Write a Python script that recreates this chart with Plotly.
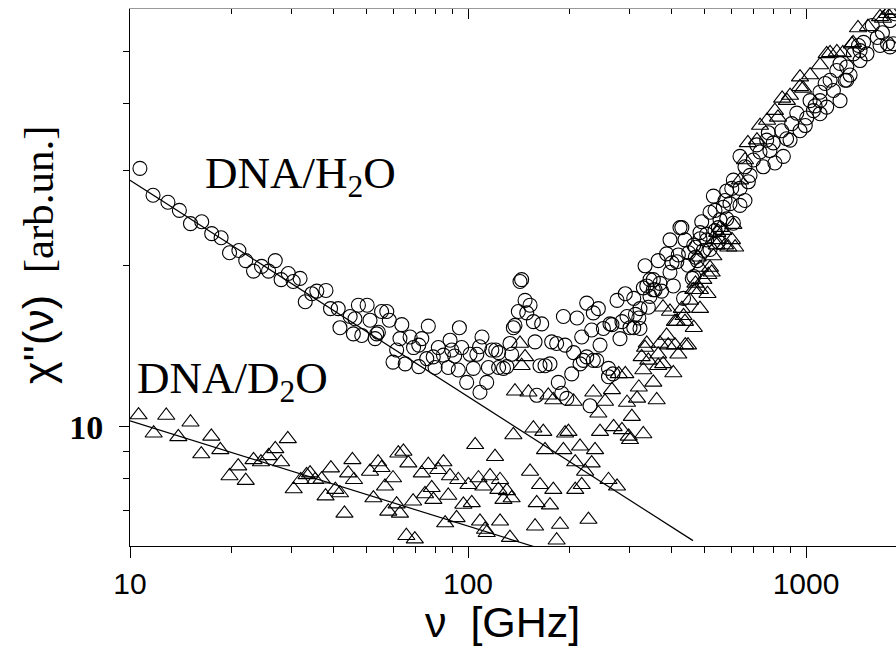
import math
import plotly.graph_objects as go

# DNA/H2O: imaginary susceptibility vs frequency (open circles)
h2o_freq = [
    10.7, 11.7, 12.95, 14.0, 15.1, 16.3, 17.45, 18.6, 19.7, 21.0, 22.0, 23.2, 24.5, 25.7,
    26.9, 28.0, 29.4, 30.4, 31.85, 33.0, 34.5, 35.7, 38.0, 39.2, 41.3, 41.8, 44.8, 45.8,
    46.3, 47.4, 48.5, 50.3, 51.3, 53.1, 53.7, 54.3, 55.5, 57.5, 58.5, 60.0, 61.5, 62.9,
    63.7, 65.2, 67.4, 69.0, 71.5, 71.5, 73.0, 75.5, 76.3, 78.9, 79.9, 81.7, 84.6, 87.4,
    88.5, 89.5, 91.3, 93.6, 94.3, 95.8, 99.1, 101.4, 103.7, 106.2, 108.2, 108.5, 110.0,
    113.6, 114.9, 117.6, 120.8, 123.2, 123.2, 127.3, 130.3, 133.1, 134.6, 136.2, 137.7,
    140.9, 142.5, 144.1, 147.5, 149.2, 152.6, 156.1, 157.9, 159.7, 163.3, 165.2, 169.0,
    174.8, 176.8, 182.9, 185.0, 189.4, 191.5, 193.7, 196.0, 202.7, 205.3, 210.1, 214.5,
    217.0, 219.4, 224.5, 224.5, 229.6, 232.2, 234.8, 234.8, 240.4, 243.0, 245.8, 251.5,
    260.4, 260.4, 263.1, 266.6, 268.5, 276.0, 281.6, 285.4, 292.0, 295.4, 301.5, 309.3,
    309.3, 312.8, 320.2, 322.7, 322.7, 330.1, 334.0, 338.0, 341.6, 345.5, 345.5, 353.4,
    353.4, 357.7, 365.3, 369.8, 373.9, 386.9, 395.9, 395.9, 401.3, 405.0, 414.7, 419.0,
    423.8, 429.2, 434.2, 438.4, 447.6, 449.6, 460.7, 465.6, 465.6, 470.9, 470.9, 476.7,
    485.7, 485.7, 491.4, 496.8, 508.3, 508.3, 520.0, 520.0, 532.0, 538.0, 538.0, 550.5,
    550.5, 556.6, 569.4, 576.0, 582.7, 582.7, 595.8, 603.0, 609.6, 609.6, 637.8, 637.8,
    637.8, 659.8, 659.8, 675.0, 683.0, 698.6, 715.0, 730.9, 747.5, 765.0, 773.6, 782.0,
    800.0, 809.0, 847.0, 857.0, 876.0, 897.0, 907.0, 939.0, 960.0, 995.0, 1005.0, 1028.0,
    1052.0, 1064.0, 1100.0, 1100.0, 1100.0, 1139.0, 1151.0, 1178.0, 1205.0, 1233.0,
    1261.0, 1261.0, 1305.0, 1320.0, 1320.0, 1350.0, 1381.0, 1430.0, 1445.0, 1445.0,
    1480.0, 1515.0, 1570.0, 1625.0, 1656.0, 1683.0, 1742.0, 1772.0, 1772.0, 1813.0, 1832.0,
]
h2o_chi = [
    30.3, 27.0, 26.2, 25.3, 23.9, 24.1, 22.9, 22.5, 21.1, 21.3, 20.4, 19.5, 19.9, 19.5,
    20.4, 18.8, 19.3, 18.65, 18.9, 17.1, 17.7, 17.9, 17.95, 16.6, 16.6, 15.3, 16.05, 14.9,
    15.9, 16.85, 14.8, 16.85, 15.8, 14.6, 14.9, 15.0, 16.4, 16.4, 15.8, 13.2, 13.9, 14.6,
    15.5, 13.1, 14.7, 14.05, 12.95, 14.2, 14.6, 13.4, 15.4, 13.5, 12.9, 14.05, 13.6, 12.9,
    14.5, 13.9, 13.55, 12.76, 15.3, 14.05, 12.1, 13.65, 12.85, 13.65, 14.1, 11.6, 14.7,
    12.1, 12.9, 13.9, 13.9, 13.75, 12.9, 12.85, 12.95, 14.3, 13.65, 15.3, 15.45,
    16.4, 18.65, 18.8, 17.2, 16.3, 16.85, 15.7, 14.4, 11.45, 13.0, 15.55, 13.0,
    13.1, 14.4, 14.3, 12.1, 11.55, 16.05, 14.2, 11.3, 12.55, 13.75, 15.95, 13.1,
    14.7, 13.3, 17.0, 13.5, 10.95, 15.15, 16.3, 13.3, 13.3, 16.6, 14.2, 15.25,
    12.85, 12.4, 15.55, 15.5, 12.55, 17.2, 14.6, 15.7, 17.7, 16.05, 15.3, 17.35,
    15.3, 16.2, 15.95, 16.6, 15.25, 18.15, 19.95, 18.3, 16.7, 17.5, 18.8, 18.8,
    18.0, 18.0, 20.4, 18.5, 17.9, 21.0, 19.4, 22.3, 20.2, 18.3, 20.3, 20.9,
    23.5, 23.5, 17.35, 22.3, 20.0, 21.1, 18.9, 19.05, 21.8, 20.7, 21.6, 20.4,
    22.4, 23.0, 24.1, 21.3, 22.85, 22.3, 21.4, 25.1, 26.9, 23.2, 25.3, 22.1,
    23.5, 24.3, 25.65, 26.4, 24.4, 27.5, 26.05, 27.8, 23.95, 28.8, 25.85, 27.8,
    31.9, 26.4, 30.5, 28.6, 29.4, 31.4, 33.5, 32.5, 30.5, 34.2, 35.3, 32.7,
    33.8, 31.0, 35.6, 31.9, 34.4, 34.2, 36.7, 38.4, 35.6, 36.4, 37.6, 40.5,
    38.8, 39.6, 42.0, 40.5, 38.3, 43.6, 39.4, 44.2, 42.3, 46.1,
    47.5, 40.5, 44.2, 46.8, 44.2, 45.2, 49.5, 51.3, 48.1, 50.2,
    52.0, 49.5, 55.9, 53.1, 51.3, 54.2, 51.7, 57.1, 51.0, 51.7, 58.8,
]

# DNA/D2O: imaginary susceptibility vs frequency (open triangles)
d2o_freq = [
    10.6, 11.75, 12.8, 13.9, 15.1, 16.25, 17.4, 18.5, 19.7, 20.9, 22.0, 23.2, 24.4, 25.7,
    26.9, 28.0, 29.3, 30.5, 32.0, 33.3, 34.1, 35.3, 36.9, 37.9, 39.3, 40.5, 41.8, 43.1,
    44.2, 45.5, 46.0, 51.3, 52.5, 54.2, 55.5, 56.8, 58.1, 60.0, 61.5, 62.2, 62.9, 64.4,
    65.7, 66.6, 68.8, 69.6, 73.0, 74.6, 76.3, 78.1, 79.0, 81.7, 84.6, 85.6, 87.4, 88.45,
    92.5, 93.6, 96.9, 100.3, 102.6, 105.0, 107.4, 108.5, 111.0, 112.3, 113.6, 116.2,
    120.2, 123.0, 124.4, 124.4, 127.3, 130.3, 133.1, 134.6, 136.2, 137.7, 142.5, 144.1,
    147.5, 150.9, 152.6, 156.1, 157.9, 159.7, 163.3, 167.0, 169.0, 172.8, 174.8, 178.8,
    178.8, 182.9, 187.2, 191.5, 193.7, 198.2, 205.3, 207.6, 207.6, 214.5, 217.0, 222.1,
    227.2, 232.2, 234.8, 237.6, 243.0, 245.8, 254.3, 260.4, 266.6, 269.6, 276.0, 279.2,
    285.4, 292.0, 295.4, 298.8, 301.5, 305.3, 316.3, 320.2, 326.4, 330.1, 330.1, 334.0,
    338.0, 341.6, 353.4, 361.6, 365.3, 365.3, 369.8, 377.5, 377.9, 386.9, 391.2, 395.9,
    405.0, 409.5, 409.5, 414.7, 419.0, 429.2, 434.2, 438.4, 439.4, 447.6, 453.7, 464.0,
    465.6, 470.9, 470.9, 478.0, 485.7, 485.7, 485.7, 496.8, 511.0, 514.1, 520.0, 526.0,
    532.0, 538.0, 544.2, 546.0, 557.0, 569.4, 576.0, 588.9, 604.0, 609.6, 617.0, 638.0,
    660.0, 673.0, 716.0, 731.0, 767.0, 809.0, 826.0, 850.0, 878.0, 897.0, 960.0, 960.0,
    980.0, 1028.0, 1100.0, 1151.0, 1178.0, 1234.0, 1285.0, 1367.0, 1378.0, 1425.0,
    1525.0, 1656.0, 1690.0, 1738.0, 1772.0, 1813.0,
]
d2o_chi = [
    10.52, 9.73, 10.5, 9.58, 10.2, 8.9, 9.6, 9.06, 8.1, 8.45, 7.94, 8.68, 8.6, 8.83,
    9.1, 8.6, 9.5, 7.66, 7.97, 8.14, 8.2, 7.97, 7.99, 7.43, 8.38, 7.64, 7.53, 6.9,
    8.2, 8.68, 7.97, 8.26, 7.37, 8.6, 8.39, 7.75, 6.96, 8.03, 7.18, 8.93, 6.9, 9.0,
    6.27, 8.56, 7.27, 6.18, 8.2, 7.5, 8.5, 7.7, 7.32, 8.32, 8.6, 6.62, 7.45, 8.1,
    6.77, 7.97, 7.17, 7.8, 7.22, 9.26, 8.03, 6.67, 7.75, 6.44, 6.35, 8.1,
    8.8, 7.64, 7.97, 6.67, 7.32, 7.6, 6.22, 7.37, 9.66, 11.65, 14.3, 13.0,
    13.5, 11.6, 8.26, 9.94, 6.53, 7.22, 7.8, 9.8, 9.06, 11.45, 7.15, 7.64,
    11.22, 6.15, 6.58, 9.06, 9.73, 9.8, 11.15, 8.6, 7.64, 9.2, 7.8, 8.26,
    6.72, 8.56, 11.6, 9.06, 10.6, 9.8, 11.15, 7.97, 11.72, 10.0, 7.75, 12.55,
    9.87, 12.55, 11.1, 9.6, 9.46, 10.45, 11.3, 11.85, 13.5, 9.7, 12.76, 14.05,
    14.3, 13.3, 12.1, 11.22, 13.65, 13.0, 14.3, 16.7, 13.1, 14.8, 14.2, 16.4,
    12.6, 15.7, 14.2, 15.7, 13.65, 16.6, 16.1, 15.7, 14.2, 14.2, 17.2, 18.0,
    15.3, 18.0, 18.5, 20.7, 16.6, 18.0, 19.8, 18.8, 17.7, 19.2, 19.8, 19.4,
    20.8, 22.3, 21.8, 23.0, 23.5, 23.2, 21.8, 21.6, 22.3, 23.8, 21.6, 28.8,
    31.4, 33.8, 34.2, 36.4, 37.2, 38.8, 37.7, 40.9, 40.5, 41.4, 44.8, 43.0,
    42.7, 45.2, 47.2, 49.5, 49.7, 49.9, 49.7, 51.6, 51.9, 55.3,
    55.6, 58.0, 57.6, 58.8, 59.6, 59.6,
]

# Power-law fits (straight lines on log-log axes), given by their end points
h2o_fit_freq = [10.0, 463.0]
h2o_fit_chi = [28.8, 6.14]
d2o_fit_freq = [10.0, 160.0]
d2o_fit_chi = [10.26, 5.96]

x_major = [10, 100, 1000]
x_minor = [20, 30, 40, 50, 60, 70, 80, 90, 200, 300, 400, 500, 600, 700, 800, 900]
y_major = [10]
y_minor = [7, 8, 9, 20, 30, 40, 50]

SANS = "Liberation Sans, Arial, sans-serif"
SERIF = "Liberation Serif, Times New Roman, serif"

W, H = 896, 649
ML, MR, MT, MB = 130, 0, 9, 103
PW, PH = W - ML - MR, H - MT - MB


def px_to_paper(px, py):
    return (px - ML) / PW, (H - MB - py) / PH


fig = go.Figure()

fig.add_trace(go.Scatter(
    x=h2o_freq, y=h2o_chi, mode="markers",
    marker=dict(symbol="circle-open", size=14, color="black",
                line=dict(width=1.1, color="black")),
))
fig.add_trace(go.Scatter(
    x=d2o_freq, y=d2o_chi, mode="markers",
    marker=dict(symbol="triangle-up-open", size=15, color="black",
                line=dict(width=1.1, color="black")),
))
fig.add_trace(go.Scatter(x=h2o_fit_freq, y=h2o_fit_chi, mode="lines",
                         line=dict(color="black", width=1.2)))
fig.add_trace(go.Scatter(x=d2o_fit_freq, y=d2o_fit_chi, mode="lines",
                         line=dict(color="black", width=1.2)))
# empty trace that attaches the top (mirror) frequency axis
fig.add_trace(go.Scatter(x=[], y=[], xaxis="x2", yaxis="y", mode="markers",
                         hoverinfo="skip"))

x_range = [1.0, math.log10(1846)]
y_range = [math.log10(6), math.log10(60)]

common_x = dict(
    type="log", range=x_range, showgrid=False, zeroline=False,
    tickvals=x_major, tickwidth=1, tickcolor="black",
)

fig.update_layout(
    width=W, height=H,
    margin=dict(l=ML, r=MR, t=MT, b=MB),
    paper_bgcolor="white", plot_bgcolor="white",
    showlegend=False,
    xaxis=dict(
        **common_x,
        ticktext=["10", "100", "1000"],
        ticks="outside", ticklen=11,
        showline=True, linecolor="black", linewidth=1,
        tickfont=dict(family=SANS, size=30, color="black"),
        minor=dict(tickvals=x_minor, ticks="outside", ticklen=6, tickwidth=1,
                   tickcolor="black", showgrid=False),
    ),
    xaxis2=dict(
        **common_x,
        overlaying="x", side="top", anchor="y",
        ticks="inside", ticklen=10, showticklabels=False,
        showline=True, linecolor="#999999", linewidth=1,
        minor=dict(tickvals=x_minor, ticks="inside", ticklen=5, tickwidth=1,
                   tickcolor="black", showgrid=False),
    ),
    yaxis=dict(
        type="log", range=y_range, showgrid=False, zeroline=False,
        showline=True, linecolor="black", linewidth=1,
        tickvals=y_major, ticktext=["<b>10</b>"],
        ticks="outside", ticklen=10, tickwidth=1, tickcolor="black",
        tickfont=dict(family=SERIF, size=34, color="black"),
        ticklabelstandoff=9,
        minor=dict(tickvals=y_minor, ticks="outside", ticklen=6, tickwidth=1,
                   tickcolor="black", showgrid=False),
    ),
)

ann = []
ax, ay = px_to_paper(502, 622)
ann.append(dict(text="\u03bd\u00a0\u00a0[GHz]", x=ax, y=ay, xref="paper", yref="paper",
                xanchor="center", yanchor="middle", showarrow=False,
                font=dict(family=SANS, size=43, color="black")))
ax, ay = px_to_paper(38, 255)
ann.append(dict(text="<span style=\"font-family:Liberation Sans\">\u03c7''(\u03bd)</span>"
                     "\u00a0\u00a0[arb.un.]",
                x=ax, y=ay, xref="paper", yref="paper", textangle=-90,
                xanchor="center", yanchor="middle", showarrow=False,
                font=dict(family=SERIF, size=43, color="black")))
ax, ay = px_to_paper(203, 176)
ann.append(dict(text="DNA/H<sub>2</sub>O", x=ax, y=ay, xref="paper", yref="paper",
                xanchor="left", yanchor="middle", showarrow=False,
                font=dict(family=SERIF, size=45, color="black")))
ax, ay = px_to_paper(135, 381)
ann.append(dict(text="DNA/D<sub>2</sub>O", x=ax, y=ay, xref="paper", yref="paper",
                xanchor="left", yanchor="middle", showarrow=False,
                font=dict(family=SERIF, size=45, color="black")))
fig.update_layout(annotations=ann)

fig.write_html("out.html")
